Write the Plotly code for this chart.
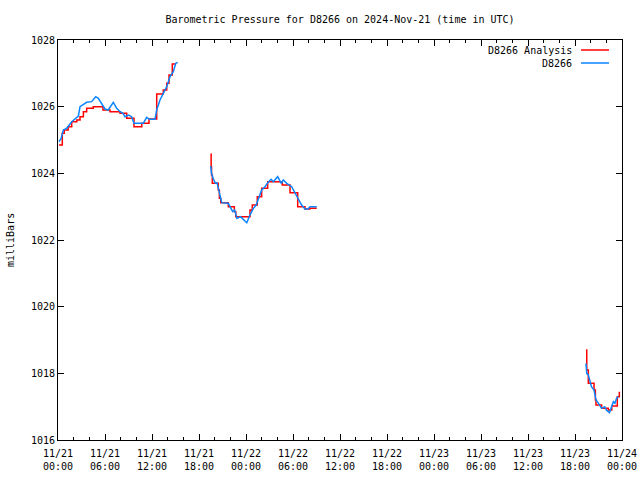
import datetime as dt
import plotly.graph_objects as go

BASE = dt.datetime(2024, 11, 21, 0, 0)

# Analysis (red) – step series, hours since 2024-11-21 00:00 UTC; None marks data gaps
analysis_hours = [
    0.13, 0.55, 0.8, 1.3, 1.75, 2.4, 2.81, 3.24, 3.66, 4.5, 5.74, 6.64, 7.92, 8.77,
    9.70, 10.69, 11.62, 12.6, 13.44, 13.88, 14.17, 14.59, 14.94,
    None,
    19.49, 19.55, 19.6, 19.7, 20.46, 20.6, 20.77, 21.74, 22.51, 22.69, 24.51, 24.8,
    25.44, 26.0, 26.77, 28.63, 29.62, 30.6, 31.53, 32.17, 33.03,
    None,
    67.4, 67.5, 67.7, 68.43, 68.6, 68.68, 69.4, 70.25, 70.69, 71.4, 71.53, 71.66,
]
analysis_mb = [
    1024.85, 1025.2, 1025.3, 1025.4, 1025.55, 1025.6, 1025.7, 1025.85, 1025.95, 1026.0,
    1025.9, 1025.85, 1025.8, 1025.65, 1025.4, 1025.5, 1025.63, 1026.38, 1026.5, 1026.7,
    1026.95, 1027.28, 1027.3,
    None,
    1024.58, 1024.2, 1023.95, 1023.7, 1023.5, 1023.25, 1023.12, 1023.0, 1022.85, 1022.7,
    1022.9, 1023.05, 1023.3, 1023.55, 1023.75, 1023.65, 1023.42, 1023.0, 1022.93,
    1022.95, 1022.95,
    None,
    1018.7, 1018.1, 1017.7, 1017.5, 1017.2, 1017.05, 1016.95, 1016.9, 1017.02, 1017.3,
    1017.3, 1017.45,
]

# Observations (blue)
obs_hours = [
    0.13, 0.4, 0.68, 1.1, 1.75, 2.39, 2.6, 2.81, 3.66, 4.30, 4.81, 5.15, 6.0, 6.4, 7.06,
    7.5, 7.92, 8.3, 8.55, 9.0, 9.4, 9.70, 10.89, 11.32, 11.7, 12.38, 12.6, 13.02, 13.44,
    13.88, 14.3, 14.72, 15.03, 15.28,
    None,
    19.49, 19.6, 19.8, 20.1, 20.3, 20.46, 20.7, 20.9, 21.74, 22.1, 22.3, 22.55, 22.85,
    23.3, 23.5, 24.1, 24.51, 24.94, 25.3, 25.66, 26.0, 26.43, 26.77, 27.2, 27.5, 28.04,
    28.5, 28.76, 29.2, 29.83, 30.47, 31.1, 31.53, 31.9, 32.17, 33.03,
    None,
    67.4, 67.5, 67.7, 67.9, 68.1, 68.43, 68.68, 69.0, 69.4, 69.8, 70.0, 70.4, 70.69,
    70.9, 71.1, 71.3, 71.53,
]
obs_mb = [
    1024.95, 1025.05, 1025.3, 1025.35, 1025.55, 1025.7, 1025.72, 1026.0, 1026.13, 1026.15,
    1026.3, 1026.25, 1025.93, 1025.9, 1026.13, 1025.95, 1025.85, 1025.8, 1025.7, 1025.75,
    1025.7, 1025.5, 1025.5, 1025.68, 1025.62, 1025.62, 1025.9, 1026.2, 1026.4, 1026.6,
    1026.9, 1027.05, 1027.3, 1027.33,
    None,
    1024.22, 1024.0, 1023.85, 1023.7, 1023.72, 1023.55, 1023.35, 1023.12, 1023.1, 1022.95,
    1022.85, 1022.9, 1022.65, 1022.7, 1022.65, 1022.52, 1022.75, 1022.95, 1023.05, 1023.3,
    1023.5, 1023.6, 1023.72, 1023.82, 1023.75, 1023.9, 1023.7, 1023.8, 1023.7, 1023.6,
    1023.3, 1023.05, 1022.93, 1022.93, 1023.0, 1023.0,
    None,
    1018.3, 1018.0, 1017.95, 1017.75, 1017.6, 1017.5, 1017.2, 1017.1, 1016.95, 1017.0,
    1016.9, 1016.82, 1017.0, 1017.15, 1017.1, 1017.25, 1017.3,
]

tick_hours = [0, 6, 12, 18, 24, 30, 36, 42, 48, 54, 60, 66, 72]
tick_labels = [
    "11/21<br>00:00", "11/21<br>06:00", "11/21<br>12:00", "11/21<br>18:00",
    "11/22<br>00:00", "11/22<br>06:00", "11/22<br>12:00", "11/22<br>18:00",
    "11/23<br>00:00", "11/23<br>06:00", "11/23<br>12:00", "11/23<br>18:00",
    "11/24<br>00:00",
]
y_ticks = [1016, 1018, 1020, 1022, 1024, 1026, 1028]
series_names = ["D8266 Analysis", "D8266"]
series_colors = ["#ff0000", "#0a84ff"]


def to_time(hours):
    return [None if h is None else BASE + dt.timedelta(hours=h) for h in hours]


FONT = "DejaVu Sans Mono"

fig = go.Figure()
fig.add_trace(go.Scatter(
    x=to_time(analysis_hours), y=analysis_mb, mode="lines", name=series_names[0],
    line=dict(color=series_colors[0], width=1.5, shape="hv"), connectgaps=False,
    showlegend=False))
fig.add_trace(go.Scatter(
    x=to_time(obs_hours), y=obs_mb, mode="lines", name=series_names[1],
    line=dict(color=series_colors[1], width=1.5), connectgaps=False,
    showlegend=False))

axis_common = dict(showline=True, linecolor="black", linewidth=1, mirror="allticks",
                   ticks="inside", ticklen=6, tickcolor="black", showgrid=False,
                   zeroline=False, automargin=False,
                   tickfont=dict(family=FONT, size=10, color="black"))

fig.update_xaxes(
    type="date",
    range=[BASE, BASE + dt.timedelta(hours=72)],
    tickvals=to_time(tick_hours), ticktext=tick_labels, ticklabelstandoff=4,
    minor=dict(dtick=2 * 3600 * 1000, tick0=BASE, ticks="inside", ticklen=3,
               tickcolor="black", showgrid=False),
    **axis_common)
fig.update_yaxes(range=[1016, 1028], tickvals=y_ticks,
                 ticktext=[str(v) for v in y_ticks], **axis_common)

annotations = [
    dict(text="milliBars", xref="paper", yref="paper", x=0, y=0.5, xshift=-48,
         textangle=-90, showarrow=False, font=dict(family=FONT, size=10, color="black"),
         xanchor="center", yanchor="middle"),
]
shapes = []
legend_y = [0.975, 0.9425]
for name, color, ly in zip(series_names, series_colors, legend_y):
    annotations.append(dict(text=name, xref="paper", yref="paper", x=0.9149, y=ly,
                            xanchor="right", yanchor="middle", showarrow=False,
                            font=dict(family=FONT, size=10, color="black")))
    shapes.append(dict(type="line", xref="paper", yref="paper", x0=0.9273, x1=0.977,
                       y0=ly, y1=ly, line=dict(color=color, width=1.5)))

fig.update_layout(
    width=640, height=480,
    margin=dict(l=58, r=18, t=40, b=40, autoexpand=False),
    paper_bgcolor="white", plot_bgcolor="white",
    title=dict(text="Barometric Pressure for D8266 on 2024-Nov-21 (time in UTC)",
               x=0.5, xref="paper", y=1 - 19 / 480, yanchor="middle",
               font=dict(family=FONT, size=10, color="black")),
    annotations=annotations, shapes=shapes, showlegend=False,
)

fig.write_html("out.html")
